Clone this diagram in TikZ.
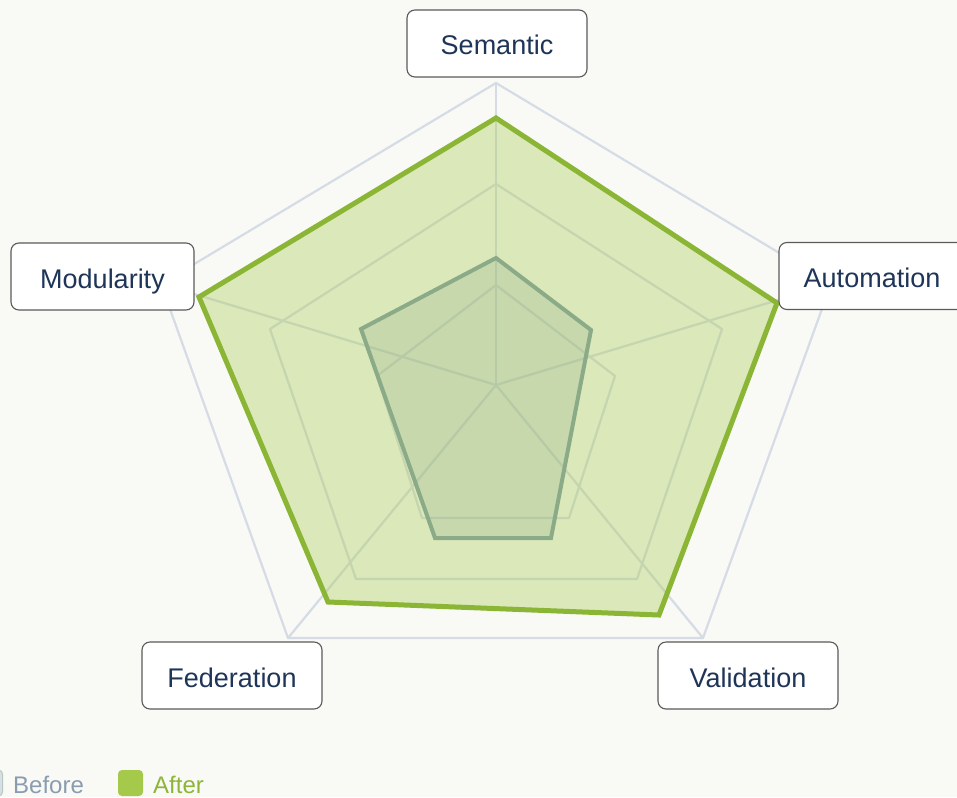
\documentclass[tikz,border=0pt]{standalone}
\usepackage{fontspec}
\setmainfont{Liberation Sans}
\definecolor{bgc}{RGB}{249,249,245}
\definecolor{gridc}{RGB}{213,220,230}
\definecolor{afterc}{RGB}{165,201,74}
\definecolor{afterline}{RGB}{139,181,52}
\definecolor{beforeline}{RGB}{138,170,136}
\definecolor{labeltext}{RGB}{30,53,88}
\definecolor{boxborder}{RGB}{90,90,90}
\definecolor{beforetxt}{RGB}{138,157,176}
\definecolor{beforesq}{RGB}{214,222,230}
\definecolor{aftertxt}{RGB}{141,181,58}
\begin{document}
\begin{tikzpicture}[x=1pt,y=-1pt,
  gridline/.style={draw=gridc,line width=2.2pt,line join=round},
  afterpoly/.style={fill=afterc,fill opacity=0.35,draw=afterline,draw opacity=1,line width=5pt,line join=miter},
  beforepoly/.style={fill=beforeline,fill opacity=0.25,draw=beforeline,draw opacity=1,line width=4pt,line join=miter},
  axislabel/.style={draw=boxborder,line width=1.1pt,fill=white,rounded corners=8pt,
    minimum height=67pt,inner sep=0pt,text height=26pt,text depth=3pt,text=labeltext,font=\fontsize{27}{31}\selectfont},
  legendtext/.style={anchor=base west,inner sep=0pt,font=\fontsize{24}{28}\selectfont}]
\useasboundingbox (0,0) rectangle (957,797);
\fill[bgc] (0,0) rectangle (957,797);
% centre and outer vertices
\coordinate (c) at (496,385);
\coordinate (o1) at (496,83);
\coordinate (o2) at (831,284);
\coordinate (o3) at (703,638);
\coordinate (o4) at (288,638);
\coordinate (o5) at (161,284);
% grid rings
\draw[gridline] (o1) -- (o2) -- (o3) -- (o4) -- (o5) -- cycle;
\draw[gridline] (496,184) -- (722,329) -- (637,579) -- (356,579) -- (270,329) -- cycle;
\draw[gridline] (496,285) -- (615,376) -- (569,518) -- (422,518) -- (377,376) -- cycle;
% axes
\foreach \v in {o1,o2,o3,o4,o5} \draw[gridline] (c) -- (\v);
% After
\coordinate (a1) at (496,118);
\coordinate (a2) at (777,303);
\coordinate (a3) at (659,615);
\coordinate (a4) at (328,602);
\coordinate (a5) at (199,297);
\draw[afterpoly] (a1) -- (a2) -- (a3) -- (a4) -- (a5) -- cycle;
% Before
\coordinate (b1) at (496,258);
\coordinate (b2) at (591,330);
\coordinate (b3) at (551,538);
\coordinate (b4) at (435,538);
\coordinate (b5) at (361,329);
\draw[beforepoly] (b1) -- (b2) -- (b3) -- (b4) -- (b5) -- cycle;
% labels
\node[axislabel,minimum width=180pt] (lsem) at (497,43.5) {Semantic};
\node[axislabel,minimum width=186pt] (laut) at (872,276) {Automation};
\node[axislabel,minimum width=180pt] (lval) at (748,675.5) {Validation};
\node[axislabel,minimum width=180pt] (lfed) at (232,675.5) {Federation};
\node[axislabel,minimum width=183pt] (lmod) at (102.5,276.5) {Modularity};
% legend
\draw[fill=beforesq,draw=beforeline!40!beforesq,line width=1pt,rounded corners=4pt] (-22,770) rectangle (2.5,796);
\node[legendtext,text=beforetxt] (lbefore) at (13,793) {Before};
\fill[afterc,rounded corners=4pt] (118,770) rectangle (143,796);
\node[legendtext,text=aftertxt] (lafter) at (153,793) {After};
\end{tikzpicture}
\end{document}
